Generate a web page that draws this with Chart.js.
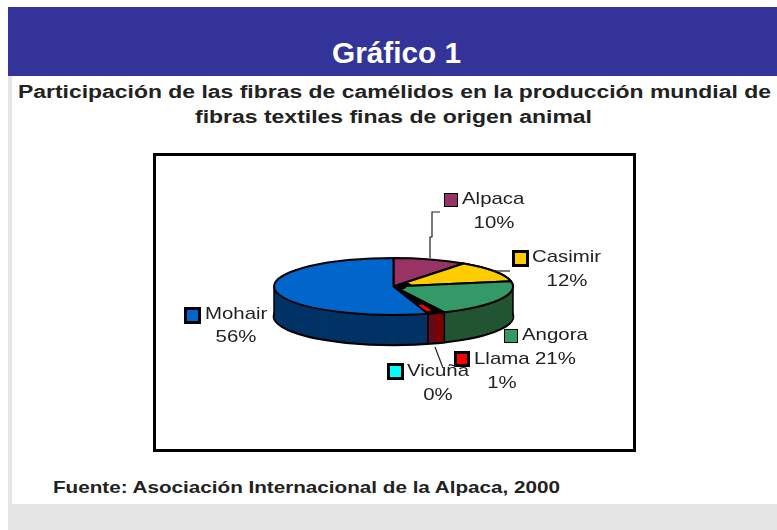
<!DOCTYPE html>
<html><head><meta charset="utf-8">
<script src="https://cdn.jsdelivr.net/npm/chart.js@4"></script>
<style>
html,body{margin:0;padding:0;background:#fff;width:777px;height:530px;overflow:hidden;font-family:"Liberation Sans",Arial,sans-serif}
div{position:absolute}
#band{left:8px;top:7px;width:769px;height:69px;background:#333399}
#gray{left:8px;top:76px;width:769px;height:454px;background:#e5e5e5}
#white{left:12px;top:76px;width:765px;height:428px;background:#fff}
#box{left:153px;top:153px;width:483px;height:299px;box-sizing:border-box;border:3px solid #000;background:#fff}
.t{white-space:nowrap;font-weight:bold;transform-origin:0 0;line-height:1}
#title{color:#fff;font-size:29px;top:39px}
#s1,#s2{color:#222;font-size:18px}
#s1{top:83px}#s2{top:108px}
#foot{color:#222;font-size:17px;top:479px}
canvas{position:absolute;left:0;top:0;filter:blur(.35px)}
</style></head><body>
<div id="band"></div><div id="gray"></div><div id="white"></div><div id="box"></div>
<div class="t" id="title" data-x="332" data-w="129">Gráfico 1</div>
<div class="t" id="s1" data-x="18" data-w="753">Participación de las fibras de camélidos en la producción mundial de</div>
<div class="t" id="s2" data-x="195" data-w="397">fibras textiles finas de origen animal</div>
<div class="t" id="foot" data-x="53" data-w="507">Fuente: Asociación Internacional de la Alpaca, 2000</div>
<canvas id="c" width="777" height="530"></canvas>
<script>
const categories=['Alpaca','Casimir','Angora','Llama','Vicuña','Mohair'];
const shares=[10,12,21,1,0,56];
const topColors=['#993366','#FFCC00','#339966','#FF0000','#00FFFF','#0066CC'];
const sideColors=['#4D1A33','#806600','#225533','#800000','#008080','#003366'];

document.querySelectorAll('.t').forEach(e=>{
  e.style.left=e.dataset.x+'px';
  const w=e.getBoundingClientRect().width;
  e.style.transform='scaleX('+(e.dataset.w/w)+')';
});

const SQUASH=0.2385, DEPTH=30, DEG=Math.PI/180;
const LLAMA=3, LLAMA_FLARE=4.8*DEG;      // the thin slice is drawn a little wider at the rim, as in the source
const APEX_CUT={1:18,2:12};              // Casimir and Angora apexes sit back from the centre
// label placement, keyed by category index: marker box, name position, value position
const layout=[
 {m:[444,193,14,1],n:[462,199],v:[494,223,'c']},
 {m:[512,250,17,3],n:[532,257],v:[567,281,'c']},
 {m:[504,329,14,1],n:[522,335],v:[535,359,'l']},
 {m:[454,351,16,3],n:[474,359],v:[502,383,'c']},
 {m:[387,363,17,3],n:[407,371],v:[438,395,'c']},
 {m:[184,307,17,3],n:[205,314],v:[236,337,'c']}
];
const leaders=[
 [[440,212],[432,212],[432,237],[430,237],[430,258]],
 [[510,271],[493,271]],
 [[435,347],[443,368]]
];
const TEXTW=1.2;

function withFace(ctx,cy,dy,fn){
  ctx.save();
  ctx.translate(0,cy+dy);ctx.scale(1,SQUASH);ctx.translate(0,-cy);
  const s=ctx.stroke;
  ctx.stroke=function(){ctx.save();ctx.setTransform(1,0,0,1,0,0);s.call(ctx);ctx.restore();};
  fn();
  delete ctx.stroke;
  ctx.restore();
}
function paint(el,ctx,fill,line,w,props){
  const o=el.options, saved={};
  if(props) for(const k in props){saved[k]=el[k];el[k]=props[k];}
  el.options=Object.assign(Object.create(o),{backgroundColor:fill,borderColor:line,borderWidth:w});
  el.draw(ctx);
  el.options=o;
  Object.assign(el,saved);
}
function flared(a){return {endAngle:a.endAngle+LLAMA_FLARE,circumference:a.circumference+LLAMA_FLARE};}
const pie3d={
  id:'pie3d',
  beforeDatasetDraw(chart,args){
    const ctx=chart.ctx, arcs=args.meta.data, cx=arcs[0].x, cy=arcs[0].y, r=arcs[0].outerRadius, ll=arcs[LLAMA];
    withFace(ctx,cy,DEPTH,()=>arcs.forEach((a,i)=>paint(a,ctx,sideColors[i],'#000',2.5)));
    for(let d=DEPTH-1;d>0;d--) withFace(ctx,cy,d,()=>{
      arcs.forEach((a,i)=>paint(a,ctx,sideColors[i],sideColors[i],0));
      paint(ll,ctx,sideColors[LLAMA],sideColors[LLAMA],0,flared(ll));
    });
    ctx.save();ctx.strokeStyle='#000';ctx.lineWidth=1.5;
    const edges=[0,Math.PI,ll.startAngle,ll.endAngle+LLAMA_FLARE];
    edges.forEach(t=>{
      const x=cx+r*Math.cos(t), y=cy+r*SQUASH*Math.sin(t);
      ctx.beginPath();ctx.moveTo(x,y);ctx.lineTo(x,y+DEPTH);ctx.stroke();
    });
    ctx.restore();
    withFace(ctx,cy,0,()=>{
      arcs.forEach((a,i)=>paint(a,ctx,APEX_CUT[i]?'#000':topColors[i],'#000',2));
      for(const i in APEX_CUT) paint(arcs[i],ctx,topColors[i],'#000',2,{innerRadius:APEX_CUT[i]});
      paint(ll,ctx,'#000','#000',2,flared(ll));
      const end=ll.endAngle+LLAMA_FLARE;
      paint(ll,ctx,topColors[LLAMA],topColors[LLAMA],0,{startAngle:end-4*DEG,endAngle:end-DEG,circumference:3*DEG,innerRadius:r*0.68,outerRadius:r*0.9});
    });
    return false;
  },
  afterDatasetsDraw(chart){
    const ctx=chart.ctx;
    ctx.save();
    ctx.strokeStyle='#222';ctx.lineWidth=1.2;
    leaders.forEach(l=>{ctx.beginPath();l.forEach((p,i)=>i?ctx.lineTo(p[0],p[1]):ctx.moveTo(p[0],p[1]));ctx.stroke();});
    ctx.font='17px "Liberation Sans"';ctx.textBaseline='middle';
    const put=(s,x,y,al)=>{ctx.save();ctx.translate(x,y);ctx.scale(TEXTW,1);ctx.textAlign=al;ctx.fillText(s,0,0);ctx.restore();};
    [4,0,1,2,3,5].forEach(i=>{
      const p=layout[i], [mx,my,ms,mb]=p.m;
      ctx.fillStyle='#000';ctx.fillRect(mx,my,ms,ms);
      ctx.fillStyle=topColors[i];ctx.fillRect(mx+mb,my+mb,ms-2*mb,ms-2*mb);
      ctx.fillStyle='#222';
      put(categories[i],p.n[0],p.n[1],'left');
      put(shares[i]+'%',p.v[0],p.v[1],p.v[2]==='c'?'center':'left');
    });
    ctx.restore();
  }
};
new Chart(document.getElementById('c'),{
  type:'pie',
  data:{labels:categories,datasets:[{data:shares,backgroundColor:topColors,borderWidth:0}]},
  options:{
    responsive:false,animation:false,
    layout:{padding:{left:274,right:264,top:167,bottom:124}},
    plugins:{legend:{display:false},tooltip:{enabled:false},title:{display:false}}
  },
  plugins:[pie3d]
});
</script>
</body></html>
